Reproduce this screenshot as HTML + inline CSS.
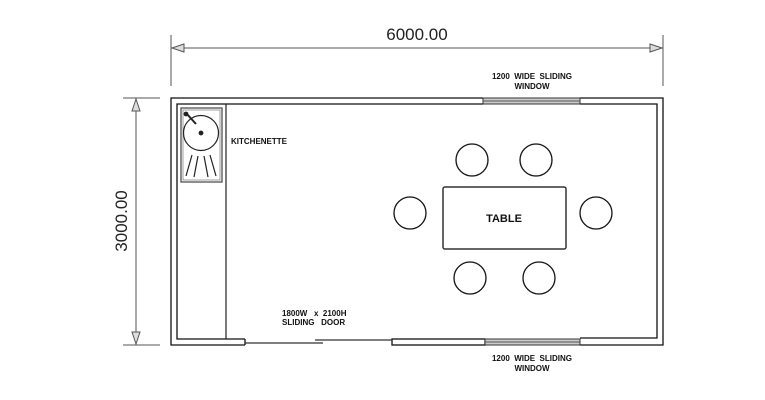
<!DOCTYPE html>
<html><head><style>body{margin:0;background:#fff}svg{display:block}text{white-space:pre}</style></head><body>
<svg width="765" height="400" viewBox="0 0 765 400" xmlns="http://www.w3.org/2000/svg" font-family="Liberation Sans, sans-serif">
<rect width="765" height="400" fill="#fff"/>
<g stroke="#555" fill="none" stroke-width="1">
<line x1="171" y1="35" x2="171" y2="86"/><line x1="663" y1="35" x2="663" y2="86"/>
<line x1="171" y1="48" x2="663" y2="48"/>
<polygon points="172,48 184,44 184,52" fill="#ddd"/>
<polygon points="662,48 650,44 650,52" fill="#ddd"/>
<line x1="123" y1="98" x2="160" y2="98"/><line x1="123" y1="345" x2="160" y2="345"/>
<line x1="136" y1="98" x2="136" y2="345"/>
<polygon points="136,99 132,111 140,111" fill="#ddd"/>
<polygon points="136,344 132,332 140,332" fill="#ddd"/>
</g>
<text x="417" y="40" font-size="17" text-anchor="middle" fill="#222">6000.00</text>
<text transform="translate(127,221) rotate(-90)" font-size="17" text-anchor="middle" fill="#222">3000.00</text>
<g stroke="#111" fill="none" stroke-width="1.3">
<path d="M483,98 L171,98 L171,345 L245,345"/>
<path d="M580,98 L663,98 L663,345 L580,345"/>
<path d="M483,104 L177,104 L177,339 L245,339"/>
<path d="M580,104 L657,104 L657,338 L580,338"/>
<rect x="392" y="339" width="93" height="6"/>
<line x1="245" y1="339" x2="245" y2="345"/>
</g>
<g stroke="#333" stroke-width="1" fill="#ccc">
<rect x="483" y="98" width="97" height="6"/>
<rect x="485" y="339" width="95" height="6"/>
</g>
<line x1="483" y1="101" x2="580" y2="101" stroke="#555"/>
<line x1="485" y1="342" x2="580" y2="342" stroke="#555"/>
<g stroke="#333" stroke-width="1.2">
<line x1="245" y1="343" x2="323" y2="343"/>
<line x1="315" y1="340" x2="392" y2="340"/>
</g>
<g stroke="#222" fill="none" stroke-width="1.2">
<line x1="226" y1="104" x2="226" y2="339"/>
<rect x="181" y="108" width="41" height="74" stroke="#444"/>
<rect x="183" y="110" width="37" height="70" stroke="#888" stroke-width="0.8"/>
<circle cx="201" cy="133" r="17.5"/>
<circle cx="201" cy="133" r="1.8" fill="#222"/>
<line x1="186" y1="113" x2="196" y2="124" stroke-width="2"/>
<circle cx="186" cy="114" r="1.8" fill="#222"/>
<line x1="192" y1="155" x2="186" y2="176"/>
<line x1="198" y1="156" x2="194" y2="177"/>
<line x1="204" y1="156" x2="208" y2="177"/>
<line x1="210" y1="155" x2="216" y2="176"/>
</g>
<rect x="443" y="187" width="123" height="62" rx="2" fill="none" stroke="#333" stroke-width="1.5"/>
<g fill="none" stroke="#111" stroke-width="1.3">
<circle cx="472" cy="160" r="16"/><circle cx="536" cy="160" r="16"/>
<circle cx="410" cy="213" r="16"/><circle cx="596" cy="213" r="16"/>
<circle cx="470" cy="278" r="16"/><circle cx="539" cy="278" r="16"/>
</g>
<g font-size="8" font-weight="bold" fill="#111">
<text x="504" y="222" font-size="11" text-anchor="middle">TABLE</text>
<text x="231" y="144">KITCHENETTE</text>
<text x="532" y="79" text-anchor="middle">1200  WIDE  SLIDING</text>
<text x="532" y="89" text-anchor="middle">WINDOW</text>
<text x="532" y="361" text-anchor="middle">1200  WIDE  SLIDING</text>
<text x="532" y="371" text-anchor="middle">WINDOW</text>
<text x="282" y="316">1800W   x  2100H</text>
<text x="282" y="325">SLIDING   DOOR</text>
</g>
</svg>
</body></html>
